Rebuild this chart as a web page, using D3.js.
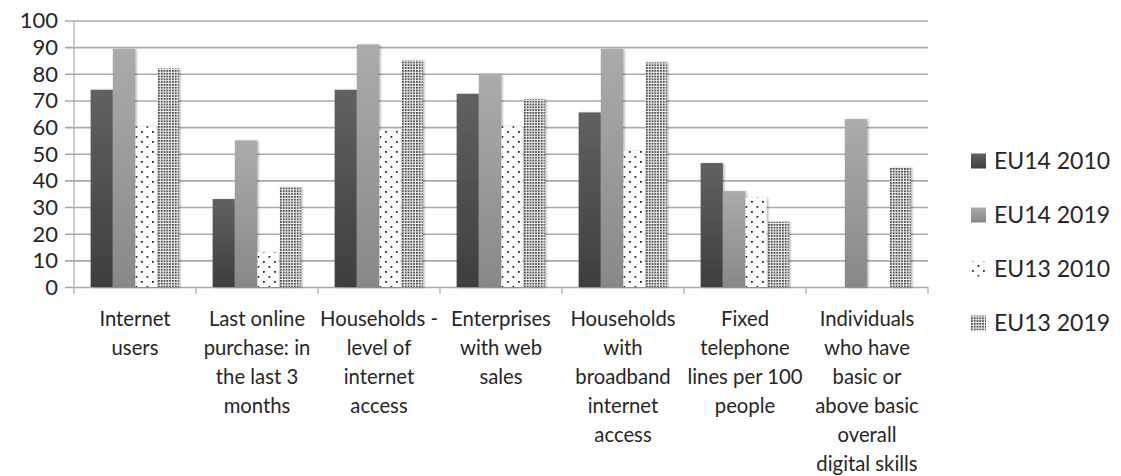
<!DOCTYPE html>
<html>
<head>
<meta charset="utf-8">
<script src="https://cdn.jsdelivr.net/npm/d3@7"></script>
<style>
  body { margin: 0; background: #fff; }
  text { font-family: Lato, "Open Sans", sans-serif; fill: #262626; }
</style>
</head>
<body>
<div id="chart"></div>
<script>
// categories and their wrapped tick labels
let categories = ["Internet users", "Last online purchase", "Households internet access", "Enterprises web sales", "Households broadband", "Fixed telephone lines", "Digital skills"];
let categoryLines = [
  ["Internet", "users"],
  ["Last online", "purchase: in", "the last 3", "months"],
  ["Households -", "level of", "internet", "access"],
  ["Enterprises", "with web", "sales"],
  ["Households", "with", "broadband", "internet", "access"],
  ["Fixed", "telephone", "lines per 100", "people"],
  ["Individuals", "who have", "basic or", "above basic", "overall", "digital skills"]
];
let seriesNames = ["EU14 2010", "EU14 2019", "EU13 2010", "EU13 2019"];
let eu14_2010 = [74, 33, 74, 72.5, 65.5, 46.5, null];
let eu14_2019 = [89.3, 55, 91, 80, 89.3, 36, 63];
let eu13_2010 = [60.3, 13, 58.5, 60.3, 51, 33.5, null];
let eu13_2019 = [82, 37.5, 85, 70.5, 84.3, 24.5, 45];
let yTicks = [0, 10, 20, 30, 40, 50, 60, 70, 80, 90, 100];

let allSeries = [eu14_2010, eu14_2019, eu13_2010, eu13_2019];

//Size of the picture and the plot area
let width = 1121, height = 476;
let plot = { left: 74, right: 928, top: 20.5, bottom: 287 };

let svg = d3.select("#chart").append("svg")
  .attr("width", width)
  .attr("height", height);

let defs = svg.append("defs");

//Gradients for the two solid series
function addGradient(id, top, bottom) {
  let grad = defs.append("linearGradient").attr("id", id)
    .attr("x1", 0).attr("y1", 0).attr("x2", 0).attr("y2", 1);
  grad.append("stop").attr("offset", "0%").attr("stop-color", top);
  grad.append("stop").attr("offset", "100%").attr("stop-color", bottom);
}
addGradient("gradDark", "#616161", "#3e3e3e");
addGradient("gradLight", "#ababab", "#888888");

//Sparse dots pattern
let sparse = defs.append("pattern").attr("id", "patSparse")
  .attr("patternUnits", "userSpaceOnUse").attr("width", 11).attr("height", 10);
sparse.append("rect").attr("width", 11).attr("height", 10).attr("fill", "#fff");
sparse.append("rect").attr("x", 1).attr("y", 1).attr("width", 1.8).attr("height", 1.8).attr("fill", "#2a2a2a");
sparse.append("rect").attr("x", 6.5).attr("y", 6).attr("width", 1.8).attr("height", 1.8).attr("fill", "#2a2a2a");

//Dense dots pattern
let dense = defs.append("pattern").attr("id", "patDense")
  .attr("patternUnits", "userSpaceOnUse").attr("width", 2.8).attr("height", 2.8);
dense.append("rect").attr("width", 2.8).attr("height", 2.8).attr("fill", "#f2f2f2");
dense.append("rect").attr("width", 1.7).attr("height", 1.7).attr("fill", "#3a3a3a");

//Soft shadow like the office chart
let shadow = defs.append("filter").attr("id", "shadow")
  .attr("x", "-20%").attr("y", "-5%").attr("width", "150%").attr("height", "115%");
shadow.append("feDropShadow").attr("dx", 1.5).attr("dy", 0.5)
  .attr("stdDeviation", 1).attr("flood-color", "#000").attr("flood-opacity", 0.3);

let fills = ["url(#gradDark)", "url(#gradLight)", "url(#patSparse)", "url(#patDense)"];

//Scales
let y = d3.scaleLinear().domain([0, 100]).range([plot.bottom, plot.top]);
let x0 = d3.scaleBand().domain(categories).range([plot.left, plot.right]);
let x1 = d3.scaleBand().domain(seriesNames).range([0, x0.bandwidth()])
  .paddingInner(0).paddingOuter(0.75);

//Horizontal gridlines, running a little past the axis on the left
let yG = svg.append("g")
  .attr("transform", "translate(" + plot.right + ",0)")
  .call(d3.axisLeft(y).tickValues(yTicks).tickSize(plot.right - plot.left + 9).tickFormat(""));
yG.select(".domain").remove();
yG.selectAll("line").attr("stroke", "#ababab").attr("stroke-width", 1.6);

//Vertical axis line
svg.append("line")
  .attr("x1", plot.left).attr("x2", plot.left)
  .attr("y1", plot.top).attr("y2", plot.bottom)
  .attr("stroke", "#ababab").attr("stroke-width", 1.2);

//Y labels
svg.append("g").selectAll("text")
  .data(yTicks)
  .enter().append("text")
  .attr("x", 58)
  .attr("y", d => y(d))
  .attr("dy", "0.36em")
  .attr("text-anchor", "end")
  .style("font-size", "22px")
  .text(d => d);

//X tick marks at category boundaries
let bounds = categories.map(c => x0(c)).concat([plot.right]);
svg.append("g").selectAll("line")
  .data(bounds)
  .enter().append("line")
  .attr("x1", d => d).attr("x2", d => d)
  .attr("y1", plot.bottom).attr("y2", plot.bottom + 7)
  .attr("stroke", "#ababab").attr("stroke-width", 1.2);

//Bars
let groups = svg.append("g").selectAll("g")
  .data(categories)
  .enter().append("g")
  .attr("transform", d => "translate(" + x0(d) + ",0)");

groups.selectAll("rect")
  .data((c, ci) => seriesNames.map((s, si) => ({ s: s, si: si, v: allSeries[si][ci] })).filter(d => d.v != null))
  .enter().append("rect")
  .attr("x", d => x1(d.s) + (d.si >= 2 ? 0.6 : 0))
  .attr("width", d => x1.bandwidth() - (d.si >= 2 ? 1.2 : 0))
  .attr("y", d => y(d.v))
  .attr("height", d => y(0) - y(d.v))
  .attr("fill", d => fills[d.si])
  .attr("filter", "url(#shadow)");

//Category labels
let labels = svg.append("g").selectAll("text")
  .data(categoryLines)
  .enter().append("text")
  .attr("text-anchor", "middle")
  .style("font-size", "20.3px");

labels.each(function (lines, i) {
  let t = d3.select(this);
  let cx = x0(categories[i]) + x0.bandwidth() / 2;
  lines.forEach((line, j) => {
    t.append("tspan")
      .attr("x", cx)
      .attr("y", 319 + j * 29)
      .attr("dy", "0.35em")
      .text(line);
  });
});

//Legend
let legend = svg.append("g").selectAll("g")
  .data(seriesNames)
  .enter().append("g")
  .attr("transform", (d, i) => "translate(971," + (161 + i * 54) + ")");

legend.append("rect")
  .attr("x", 0).attr("y", -7.5)
  .attr("width", 15).attr("height", 15)
  .attr("fill", (d, i) => fills[i]);

legend.append("text")
  .attr("x", 23)
  .attr("dy", "0.36em")
  .style("font-size", "23px")
  .text(d => d);
</script>
</body>
</html>
